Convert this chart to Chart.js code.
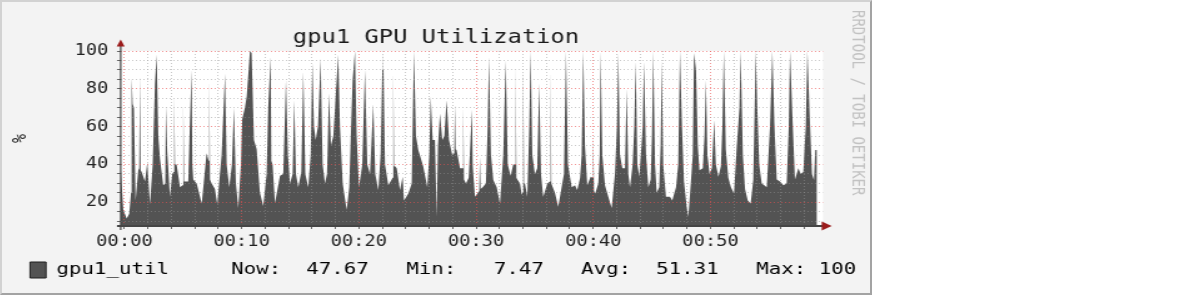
<!DOCTYPE html>
<html>
<head>
<meta charset="utf-8">
<title>gpu1 GPU Utilization</title>
<script src="https://cdn.jsdelivr.net/npm/chart.js@4.4.1/dist/chart.umd.min.js"></script>
<style>
    html, body { margin: 0; padding: 0; background: #ffffff; }
    #frame {
        position: absolute;
        left: 0;
        top: 0;
        width: 868px;
        height: 291px;
        background: #f3f3f3;
        border-style: solid;
        border-width: 2px;
        border-color: #d2d2d2 #a3a3a3 #a3a3a3 #d2d2d2;
        overflow: hidden;
    }
    #gpuChart { display: block; }
</style>
</head>
<body>
<!-- the rrdtool picture is stretched sideways, so the canvas is too (694 -> 868) -->
<div id="frame"><canvas id="gpuChart" width="694" height="291" style="width:868px;height:291px"></canvas></div>
<script>
// Sample times (minutes after 00:00) and gpu1_util values (%)
var sampleMinutes = [
    -0.32, -0.10, 0.19, 0.41, 0.56, 0.61, 0.70, 0.81, 0.95, 1.18,
    1.26, 1.32, 1.38, 1.47, 1.75, 1.95, 2.18, 2.41, 2.60, 2.75,
    2.89, 3.03, 3.31, 3.48, 3.54, 3.65, 3.88, 4.08, 4.19, 4.25,
    4.31, 4.45, 4.74, 4.96, 5.02, 5.08, 5.19, 5.44, 5.59, 5.73,
    5.79, 5.87, 6.16, 6.59, 7.01, 7.18, 7.24, 7.30, 7.44, 7.72,
    7.92, 8.29, 8.58, 8.72, 8.94, 9.17, 9.34, 9.51, 9.71, 9.94,
    10.05, 10.28, 10.43, 10.71, 10.85, 11.05, 11.28, 11.56, 11.84, 12.13,
    12.27, 12.47, 12.53, 12.64, 12.84, 13.27, 13.55, 13.78, 13.95, 14.12,
    14.35, 14.49, 14.63, 14.83, 15.09, 15.26, 15.43, 15.68, 15.89, 16.03,
    16.17, 16.31, 16.51, 16.74, 16.91, 17.11, 17.28, 17.45, 17.62, 17.82,
    18.05, 18.24, 18.39, 18.62, 18.96, 19.18, 19.39, 19.47, 19.67, 19.81,
    20.01, 20.29, 20.52, 20.72, 20.95, 21.23, 21.40, 21.66, 21.86, 22.00,
    22.08, 22.23, 22.51, 22.80, 22.88, 22.94, 23.00, 23.08, 23.23, 23.51,
    23.74, 23.85, 24.22, 24.51, 24.70, 24.87, 25.07, 25.49, 25.84, 26.01,
    26.13, 26.30, 26.49, 26.64, 26.75, 26.92, 27.12, 27.29, 27.49, 27.69,
    27.97, 28.14, 28.20, 28.26, 28.34, 28.63, 28.85, 28.91, 28.97, 29.14,
    29.37, 29.54, 29.65, 29.71, 29.76, 29.91, 30.27, 30.33, 30.39, 30.56,
    30.84, 30.99, 31.10, 31.27, 31.47, 31.76, 32.04, 32.32, 32.53, 32.70,
    32.95, 33.17, 33.32, 33.38, 33.44, 33.52, 33.75, 33.89, 33.97, 34.03,
    34.09, 34.17, 34.37, 34.54, 34.66, 34.80, 35.02, 35.22, 35.39, 35.54,
    35.73, 36.08, 36.30, 36.36, 36.42, 36.50, 36.73, 37.01, 37.30, 37.50,
    37.67, 37.84, 38.16, 38.44, 38.63, 38.87, 39.01, 39.15, 39.29, 39.49,
    39.78, 39.94, 40.00, 40.06, 40.17, 40.43, 40.55, 40.63, 40.77, 41.00,
    41.28, 41.57, 41.85, 42.02, 42.14, 42.28, 42.48, 42.71, 42.85, 42.99,
    43.13, 43.36, 43.50, 43.62, 43.76, 43.93, 44.07, 44.22, 44.33, 44.50,
    44.70, 44.90, 45.01, 45.12, 45.27, 45.41, 45.63, 45.75, 45.84, 45.97,
    46.20, 46.54, 46.74, 47.06, 47.25, 47.40, 47.57, 47.74, 47.97, 48.11,
    48.32, 48.49, 48.60, 48.77, 48.92, 49.06, 49.35, 49.49, 49.61, 49.74,
    49.92, 50.12, 50.32, 50.46, 50.68, 50.89, 51.02, 51.14, 51.31, 51.52,
    51.75, 52.01, 52.24, 52.47, 52.58, 52.76, 52.95, 53.18, 53.43, 53.65,
    53.77, 53.86, 53.99, 54.16, 54.37, 54.59, 54.80, 55.08, 55.28, 55.45,
    55.65, 55.93, 56.22, 56.50, 56.68, 56.79, 56.98, 57.21, 57.50, 57.70,
    57.92, 58.13, 58.27, 58.46, 58.66, 58.83, 58.94, 59.09
];
var utilValues = [
    38, 16, 11.5, 14, 25, 86, 72, 70, 21, 37,
    38, 87, 37, 36, 31, 41, 19, 40, 83, 98,
    55, 43, 29, 30, 71, 47, 23, 35, 36, 77,
    40, 40, 28, 29, 73, 31, 31, 31, 63.5, 90,
    40, 32, 30, 19.4, 46, 42, 86, 32, 30, 27,
    19, 45, 88, 40, 28, 40, 70, 30, 17, 40,
    64, 70, 76, 100, 99, 53, 48, 25, 18, 35,
    70.5, 97, 42, 40, 19.5, 34, 35, 84.7, 45, 30,
    35, 74, 35, 28, 36, 89, 35, 28, 45, 93.5,
    60, 53, 60, 96, 40, 30, 35, 77.6, 50, 55,
    79, 98, 60, 30, 16, 28, 70, 84.7, 100, 55,
    28, 40, 90, 40, 35, 72, 35, 26.5, 45, 90,
    100, 40, 29, 32, 33, 90, 39, 39, 38, 26.5,
    33.5, 21, 24.7, 30, 100, 55, 47.6, 39, 28, 45,
    76, 53, 53, 12.4, 50, 67, 53, 55, 74, 53,
    45, 46, 72, 48, 47.6, 38, 38, 71, 32, 30,
    33, 54.7, 69, 40, 35, 23, 26, 44, 27, 28,
    30, 60, 97, 45, 31.8, 28, 19.4, 45, 95, 40,
    34, 40, 40, 93.5, 33, 32, 30, 24, 25, 92,
    30, 30, 23, 60, 100, 45, 35, 38, 83, 35,
    23, 30, 31, 91, 30, 30, 25, 17.7, 28, 35,
    100, 40, 28, 29, 26.5, 32.7, 45, 100, 50, 29,
    33.5, 33, 56, 26, 24.7, 30, 45, 100, 45, 29,
    23, 17, 35, 60, 99, 45, 38, 38, 80, 35,
    28, 40, 60, 94.4, 40, 33.5, 46, 60, 94.4, 45,
    28, 32, 55, 100, 40, 25, 28, 50, 95, 40,
    23, 23, 21, 28, 40, 100, 60, 31, 17.7, 12.4,
    30, 45, 99, 90, 50, 37, 38, 55, 84.7, 45,
    35, 38, 63.5, 40, 33.5, 39, 60, 100, 48, 33,
    28, 24.7, 49.4, 70, 100, 45, 27, 21, 19.4, 31.8,
    70, 100, 71, 40, 30, 29, 28, 60, 100, 62,
    32, 31, 29, 30, 60, 100, 67, 32, 38, 35,
    36, 60, 100, 67, 35, 31.8, 47.6, 47.67
];

// Axis ranges and labels
var xMinMinutes = -0.32;
var xMaxMinutes = 59.6;
var xTickMinutes = [0, 10, 20, 30, 40, 50];
var xTickLabels = ['00:00', '00:10', '00:20', '00:30', '00:40', '00:50'];
var yMinValue = 7.47;
var yMaxValue = 100;
var yTickValues = [20, 40, 60, 80, 100];
var yTickLabels = ['20', '40', '60', '80', '100'];

// Legend line
var seriesName = 'gpu1_util';
var statNames = ['Now:', 'Min:', 'Avg:', 'Max:'];
var statValues = [47.67, 7.47, 51.31, 100.00];

var gpuChart = null;

var MONO = "'DejaVu Sans Mono', monospace";
var AREA_COLOR = '#535353';
var MINOR_GRID = 'rgba(150, 150, 150, 0.5)';
var MAJOR_GRID = 'rgba(235, 80, 80, 0.6)';
var ARROW_COLOR = '#9b1c1c';

// rrdtool style legend text, fixed columns of 14 characters
function buildLegendText() {
    var text = seriesName.padEnd(14);
    for (var i = 0; i < statNames.length; i++) {
        var part = statNames[i] + statValues[i].toFixed(2).padStart(7);
        text += (i < statNames.length - 1) ? part.padEnd(14) : part;
    }
    return text;
}

// Plot background, axis lines with arrows and the side credit
var rrdDecor = {
    id: 'rrdDecor',
    beforeDraw: function (chart) {
        var a = chart.chartArea;
        var ctx = chart.ctx;
        ctx.save();
        ctx.fillStyle = '#ffffff';
        ctx.fillRect(a.left, a.top, a.right - a.left, a.bottom - a.top);
        ctx.restore();
    },
    afterDraw: function (chart) {
        var a = chart.chartArea;
        var ctx = chart.ctx;
        ctx.save();

        // y axis
        ctx.strokeStyle = '#454545';
        ctx.lineWidth = 1.2;
        ctx.beginPath();
        ctx.moveTo(a.left, a.bottom + 4);
        ctx.lineTo(a.left, a.top - 6);
        ctx.stroke();
        ctx.fillStyle = ARROW_COLOR;
        ctx.beginPath();
        ctx.moveTo(a.left, a.top - 11.5);
        ctx.lineTo(a.left - 3.2, a.top - 4.5);
        ctx.lineTo(a.left + 3.2, a.top - 4.5);
        ctx.closePath();
        ctx.fill();

        // x axis
        ctx.lineWidth = 2;
        ctx.beginPath();
        ctx.moveTo(a.left - 3, a.bottom);
        ctx.lineTo(a.right, a.bottom);
        ctx.stroke();
        ctx.beginPath();
        ctx.moveTo(a.right + 7, a.bottom);
        ctx.lineTo(a.right - 1, a.bottom - 4.5);
        ctx.lineTo(a.right - 1, a.bottom + 4.5);
        ctx.closePath();
        ctx.fill();

        // credit down the right edge
        ctx.translate(684, 8);
        ctx.rotate(Math.PI / 2);
        ctx.fillStyle = '#c2c2c2';
        ctx.font = '14px ' + MONO;
        ctx.textAlign = 'left';
        ctx.textBaseline = 'middle';
        ctx.fillText('RRDTOOL / TOBI OETIKER', 0, 0);
        ctx.restore();
    }
};

function gridColor(ctx) {
    var v = ctx.tick ? ctx.tick.value : 0;
    var step = ctx.scale.axis === 'x' ? 10 : 20;
    return Math.abs(v % step) < 1e-6 ? MAJOR_GRID : MINOR_GRID;
}

window.renderGpuChart = function () {
    if (typeof Chart === 'undefined') {
        console.error('Chart.js is not loaded.');
        return;
    }
    var points = sampleMinutes.map(function (m, i) {
        return { x: m, y: utilValues[i] };
    });

    gpuChart = new Chart(document.getElementById('gpuChart'), {
        type: 'line',
        data: {
            datasets: [{
                label: seriesName,
                data: points,
                borderColor: 'rgba(0,0,0,0)',
                borderWidth: 1,
                backgroundColor: AREA_COLOR,
                fill: 'start',
                pointRadius: 0,
                tension: 0
            }]
        },
        options: {
            responsive: false,
            animation: false,
            devicePixelRatio: 1,
            events: [],
            layout: { padding: { top: 0, left: 12, right: 12, bottom: 4.7 } },
            scales: {
                x: {
                    type: 'linear',
                    min: xMinMinutes,
                    max: xMaxMinutes,
                    afterBuildTicks: function (scale) {
                        var t = [];
                        for (var m = 0; m <= 58; m += 2) t.push({ value: m });
                        scale.ticks = t;
                    },
                    afterFit: function (scale) { scale.height = 25.3; },
                    grid: {
                        z: 1,
                        color: gridColor,
                        lineWidth: 1,
                        tickLength: 3,
                        tickColor: '#666666',
                        tickBorderDash: []
                    },
                    border: { display: false, dash: [1, 2] },
                    ticks: {
                        autoSkip: false,
                        maxRotation: 0,
                        padding: 4,
                        color: '#222222',
                        font: { family: MONO, size: 15 },
                        callback: function (value) {
                            var i = xTickMinutes.indexOf(value);
                            return i >= 0 ? xTickLabels[i] : '';
                        }
                    }
                },
                y: {
                    type: 'linear',
                    min: yMinValue,
                    max: yMaxValue,
                    afterBuildTicks: function (scale) {
                        var t = [];
                        for (var v = 10; v <= 100; v += 5) t.push({ value: v });
                        scale.ticks = t;
                    },
                    afterFit: function (scale) { scale.width = 82.9; },
                    grid: {
                        z: 1,
                        color: gridColor,
                        lineWidth: 1,
                        tickLength: 3,
                        tickColor: '#666666',
                        tickBorderDash: []
                    },
                    border: { display: false, dash: [1, 2] },
                    ticks: {
                        autoSkip: false,
                        padding: 6.9,
                        color: '#222222',
                        font: { family: MONO, size: 15 },
                        callback: function (value) {
                            var i = yTickValues.indexOf(value);
                            return i >= 0 ? yTickLabels[i] : '';
                        }
                    },
                    title: {
                        display: true,
                        text: '%',
                        color: '#222222',
                        font: { family: MONO, size: 15, lineHeight: 1.2 },
                        padding: { top: -6.2, bottom: 0 }
                    }
                },
                // keeps the right margin without shifting the centred title
                yRight: {
                    position: 'right',
                    display: true,
                    grid: { display: false, drawTicks: false },
                    border: { display: false },
                    ticks: { display: false },
                    afterFit: function (scale) { scale.width = 25.6; }
                }
            },
            plugins: {
                title: {
                    display: true,
                    text: 'gpu1 GPU Utilization',
                    color: '#1a1a1a',
                    font: { family: MONO, size: 19, weight: 'normal', lineHeight: 1.2 },
                    padding: { top: 25.1, bottom: 1.1 }
                },
                legend: {
                    display: true,
                    position: 'bottom',
                    align: 'start',
                    labels: {
                        boxWidth: 12.8,
                        boxHeight: 16,
                        padding: 10.4,
                        color: '#1e1e1e',
                        font: { family: MONO, size: 16.6 },
                        generateLabels: function () {
                            return [{
                                text: buildLegendText(),
                                fillStyle: AREA_COLOR,
                                strokeStyle: '#1e1e1e',
                                lineWidth: 1,
                                hidden: false,
                                datasetIndex: 0
                            }];
                        }
                    }
                },
                tooltip: { enabled: false }
            }
        },
        plugins: [rrdDecor]
    });
};

window.renderGpuChart();
</script>
</body>
</html>
